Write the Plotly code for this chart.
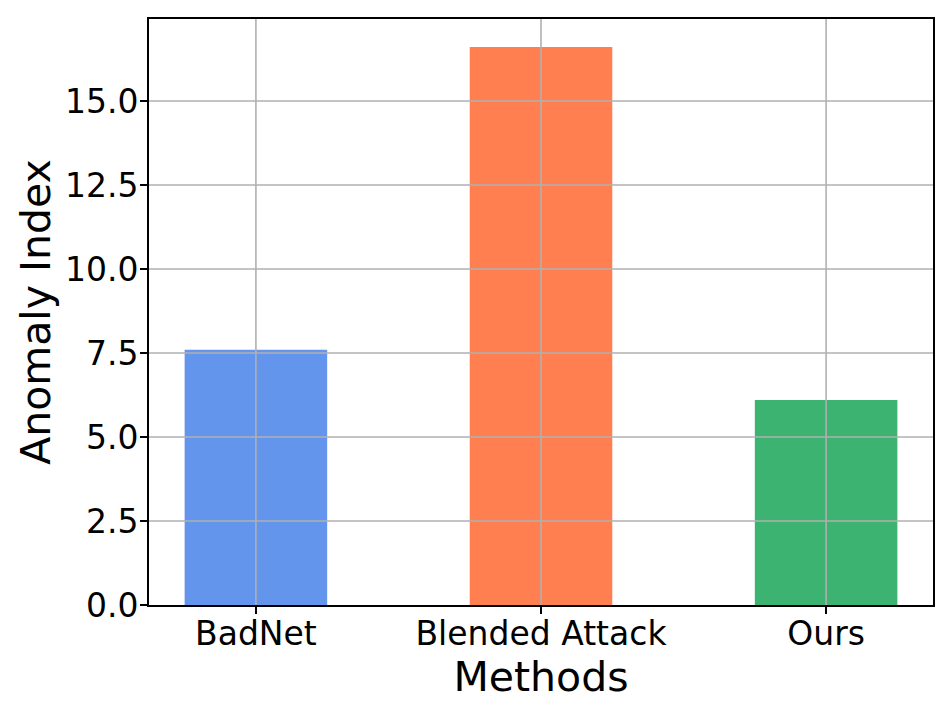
import plotly.graph_objects as go

methods = ["BadNet", "Blended Attack", "Ours"]
anomaly_index = [7.60, 16.61, 6.10]
bar_colors = ["#6495ED", "#FF7F50", "#3CB371"]
y_ticks = [0.0, 2.5, 5.0, 7.5, 10.0, 12.5, 15.0]
y_tick_labels = ["0.0", "2.5", "5.0", "7.5", "10.0", "12.5", "15.0"]

xpos = list(range(len(methods)))

fig = go.Figure()
fig.add_trace(go.Bar(
    x=xpos, y=anomaly_index, width=0.5,
    marker=dict(color=bar_colors, line=dict(width=0)),
    showlegend=False,
))

grid_style = dict(color="#b0b0b0", width=1.6)
# grid lines drawn above the bars, as in the reference
for yv in y_ticks:
    if yv == 0:
        continue
    fig.add_shape(type="line", xref="paper", yref="y", x0=0, x1=1, y0=yv, y1=yv,
                  line=grid_style, layer="above")
for xv in xpos:
    fig.add_shape(type="line", xref="x", yref="paper", x0=xv, x1=xv, y0=0, y1=1,
                  line=grid_style, layer="above")

font = "DejaVu Sans"
fig.update_layout(
    width=944, height=706,
    margin=dict(l=141, r=19, t=11, b=109),
    paper_bgcolor="white", plot_bgcolor="white",
    font=dict(family=font, color="black"),
    xaxis=dict(
        range=[-0.375, 2.375],
        tickvals=xpos, ticktext=methods,
        tickfont=dict(size=33, family=font),
        showgrid=False,
        showline=True, linecolor="black", linewidth=1.6, mirror=True,
        ticks="outside", ticklen=7, tickwidth=1.6, tickcolor="black",
        zeroline=False, layer="above traces", automargin=False,
        ticklabelstandoff=-8,
        title=dict(text="Methods", font=dict(size=41, family=font), standoff=0),
    ),
    yaxis=dict(
        range=[0, 17.44],
        tickvals=y_ticks, ticktext=y_tick_labels,
        tickfont=dict(size=33, family=font),
        showgrid=False,
        showline=True, linecolor="black", linewidth=1.6, mirror=True,
        ticks="outside", ticklen=7, tickwidth=1.6, tickcolor="black",
        zeroline=False, layer="above traces", automargin=False,
        ticklabelstandoff=-5,
        title=dict(text="Anomaly Index", font=dict(size=41, family=font), standoff=2),
    ),
)

fig.write_html("out.html")
